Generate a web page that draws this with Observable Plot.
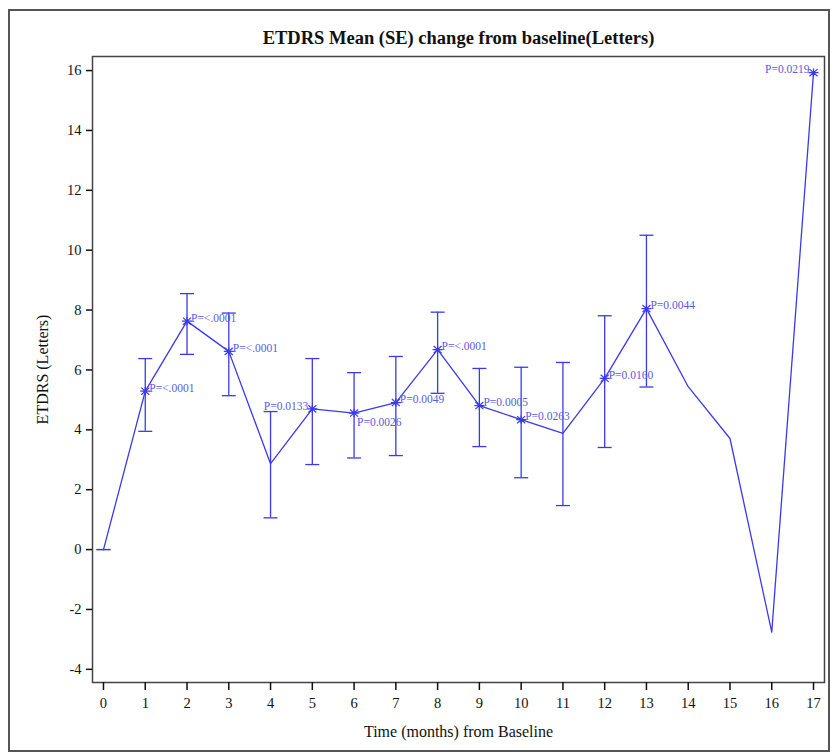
<!DOCTYPE html>
<html>
<head>
<meta charset="utf-8">
<script src="https://cdn.jsdelivr.net/npm/d3@7"></script>
<script src="https://cdn.jsdelivr.net/npm/@observablehq/plot@0.6"></script>
<style>
  body { margin: 0; background: #fff; }
  #wrap { position: relative; width: 835px; height: 754px; }
  #border { position: absolute; left: 8px; top: 9px; width: 822px; height: 743px; border: 2px solid #555; box-sizing: border-box; pointer-events: none; }
  #chart { position: absolute; left: 0; top: 0; }
</style>
</head>
<body>
<div id="wrap"><div id="chart"></div><div id="border"></div></div>
<script>
const months = [0, 1, 2, 3, 4, 5, 6, 7, 8, 9, 10, 11, 12, 13, 14, 15, 16, 17];
const means  = [0, 5.29, 7.63, 6.62, 2.87, 4.70, 4.56, 4.91, 6.68, 4.81, 4.34, 3.88, 5.72, 8.05, 5.44, 3.71, -2.76, 15.93];
const upper  = [0, 6.38, 8.55, 7.90, 4.61, 6.38, 5.91, 6.45, 7.93, 6.05, 6.09, 6.25, 7.81, 10.50, null, null, null, null];
const lower  = [0, 3.95, 6.52, 5.14, 1.06, 2.84, 3.06, 3.14, 5.22, 3.44, 2.40, 1.47, 3.41, 5.43, null, null, null, null];
const pLabels = [null, "P=<.0001", "P=<.0001", "P=<.0001", null, "P=0.0133", "P=0.0026", "P=0.0049", "P=<.0001",
                 "P=0.0005", "P=0.0263", null, "P=0.0160", "P=0.0044", null, null, null, "P=0.0219"];
const yTicks = [-4, -2, 0, 2, 4, 6, 8, 10, 12, 14, 16];
const xTicks = months;
const titleText = "ETDRS Mean (SE) change from baseline(Letters)";
const xLabel = "Time (months) from Baseline";
const yLabel = "ETDRS (Letters)";

const data = months.map((m, i) => ({month: m, mean: means[i], upper: upper[i], lower: lower[i], p: pLabels[i]}));
const bars = data.filter(d => d.upper != null);
const marked = data.filter(d => d.p != null);
const leftLabels = new Set([5, 17]);
const belowLabels = new Set([6]);

const blue = "#3a3aec";
const labelBlue = "#5a5ae2";

const capSymbol = { draw(ctx) { ctx.moveTo(-7, 0); ctx.lineTo(7, 0); } };
const starSymbol = { draw(ctx) {
  const r = 5, h = 4.2;
  ctx.moveTo(-r, 0); ctx.lineTo(r, 0);
  ctx.moveTo(0, -h); ctx.lineTo(0, h);
  ctx.moveTo(-r*0.8, -h*0.85); ctx.lineTo(r*0.8, h*0.85);
  ctx.moveTo(-r*0.8, h*0.85); ctx.lineTo(r*0.8, -h*0.85);
} };

const chart = Plot.plot({
  width: 835,
  height: 754,
  marginLeft: 92,
  marginRight: 11,
  marginTop: 56,
  marginBottom: 72,
  style: {fontFamily: "'Liberation Serif', 'Times New Roman', serif", fontSize: "14.5px", background: "transparent", color: "#111"},
  x: {domain: [-0.263, 17.263]},
  y: {domain: [-4.44, 16.47]},
  marks: [
    Plot.frame({stroke: "#444", strokeWidth: 1.5}),
    Plot.axisY({ticks: yTicks, tickFormat: d => String(d), tickSize: 6, tickPadding: 5, label: null, strokeWidth: 1.5, fontSize: 14.5}),
    Plot.axisX({ticks: xTicks, tickFormat: d => String(d), tickSize: 8, tickPadding: 7, label: null, strokeWidth: 1.5, fontSize: 14.5}),
    Plot.text([yLabel], {text: d => d, frameAnchor: "left", textAnchor: "middle", lineAnchor: "middle", rotate: -90, dx: -50, fontSize: 16}),
    Plot.text([xLabel], {text: d => d, frameAnchor: "bottom", textAnchor: "middle", lineAnchor: "middle", dy: 49, fontSize: 16}),
    Plot.text([titleText], {text: d => d, frameAnchor: "top", textAnchor: "middle", lineAnchor: "middle", dy: -18, fontSize: 18.5, fontWeight: "bold"}),
    Plot.ruleX(bars, {x: "month", y1: "lower", y2: "upper", stroke: blue, strokeWidth: 1.3}),
    Plot.dot(bars, {x: "month", y: "upper", symbol: capSymbol, fill: "none", stroke: blue, strokeWidth: 1.3}),
    Plot.dot(bars, {x: "month", y: "lower", symbol: capSymbol, fill: "none", stroke: blue, strokeWidth: 1.3}),
    Plot.line(data, {x: "month", y: "mean", stroke: blue, strokeWidth: 1.3}),
    Plot.dot(marked, {x: "month", y: "mean", symbol: starSymbol, fill: "none", stroke: blue, strokeWidth: 1.2}),
    Plot.text(marked.filter(d => !leftLabels.has(d.month) && !belowLabels.has(d.month)),
      {x: "month", y: "mean", text: "p", textAnchor: "start", dx: 4, dy: -3, fill: labelBlue, fontSize: 11.5}),
    Plot.text(marked.filter(d => leftLabels.has(d.month)),
      {x: "month", y: "mean", text: "p", textAnchor: "end", dx: -4, dy: -3, fill: labelBlue, fontSize: 11.5}),
    Plot.text(marked.filter(d => belowLabels.has(d.month)),
      {x: "month", y: "mean", text: "p", textAnchor: "start", dx: 3, dy: 9, fill: labelBlue, fontSize: 11.5})
  ]
});
document.getElementById("chart").appendChild(chart);
</script>
</body>
</html>
